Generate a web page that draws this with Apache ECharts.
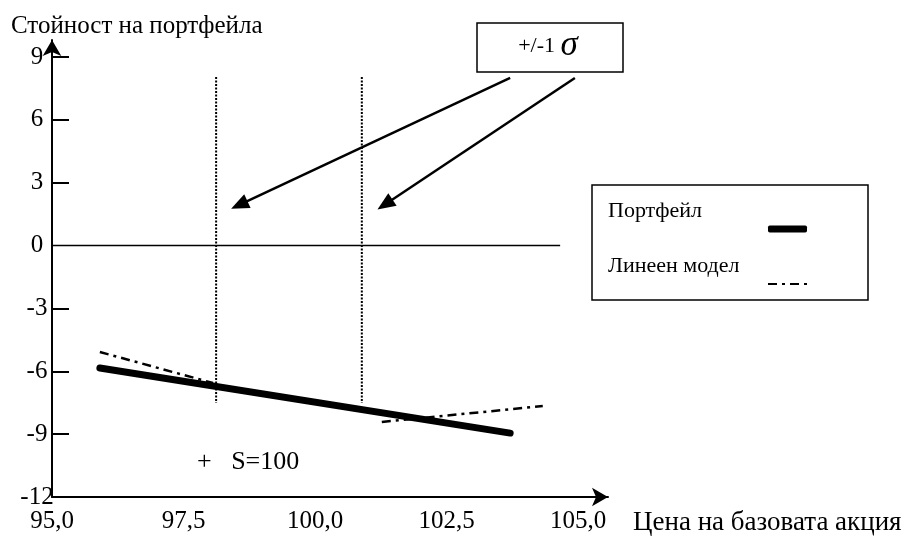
<!DOCTYPE html>
<html>
<head>
<meta charset="utf-8">
<script src="https://cdn.jsdelivr.net/npm/echarts@6/dist/echarts.min.js"></script>
<style>html,body{margin:0;padding:0;background:#fff}#c{width:909px;height:537px}</style>
</head>
<body>
<div id="c"></div>
<script>
// ---- data ----
const xTicks = [95, 97.5, 100, 102.5, 105];
const yTicks = [-12, -9, -6, -3, 0, 3, 6, 9];
const portfolioX = [95.91, 103.71];
const portfolioY = [-5.84, -8.95];
const linearLeftX = [95.91, 98.06];
const linearLeftY = [-5.08, -6.56];
const linearRightX = [101.27, 104.33];
const linearRightY = [-8.42, -7.66];
const sigmaX = [98.12, 100.89];
const sigmaY = [8.05, -7.51];
const zeroLineX = [94.73, 104.66];
const arrowStarts = [[103.71, 8.0], [104.94, 8.0]];
const arrowEnds = [[98.56, 1.94], [101.33, 1.96]];

const FONT = 'Liberation Serif';
const zip = (xs, ys) => xs.map((x, i) => [x, ys[i]]);

const legendBase = (name, icon, top) => ({
  data: [{name: name, icon: icon}],
  orient: 'vertical',
  left: 608, top: top,
  padding: 0,
  align: 'right',
  itemWidth: 39, itemHeight: 7,
  selectedMode: false,
  formatter: n => '{a|' + n + '}\n{a| }',
  itemStyle: {color: '#000', borderWidth: 0},
  textStyle: {rich: {a: {fontFamily: FONT, fontSize: 22, color: '#000', width: 155, align: 'left', lineHeight: 36}}}
});

const chart = echarts.init(document.getElementById('c'), null, {renderer: 'canvas'});
const option = {
  backgroundColor: '#fff',
  animation: false,
  title: {
    text: 'Стойност на портфейла',
    left: 6, top: 9,
    textStyle: {fontFamily: FONT, fontSize: 25, fontWeight: 'normal', color: '#000'}
  },
  grid: {left: 52, right: 301, top: 40, bottom: 40, containLabel: false},
  xAxis: {
    type: 'value', min: 95, max: 105.57,
    name: 'Цена на базовата акция',
    nameLocation: 'end', nameGap: 25,
    nameTextStyle: {fontFamily: FONT, fontSize: 27, color: '#000', verticalAlign: 'top', padding: [12, 0, 0, 0]},
    axisLine: {show: true, onZero: false, symbol: ['none', 'arrow'], symbolSize: [14, 16], lineStyle: {color: '#000', width: 2}},
    axisTick: {show: false},
    splitLine: {show: false},
    axisLabel: {
      customValues: xTicks,
      margin: 12,
      fontFamily: FONT, fontSize: 25, color: '#000',
      formatter: v => v.toFixed(1).replace('.', ',')
    }
  },
  yAxis: {
    type: 'value', min: -12, max: 9.81,
    axisLine: {show: true, onZero: false, symbol: ['none', 'arrow'], symbolSize: [14, 16], lineStyle: {color: '#000', width: 2}},
    axisTick: {show: true, inside: true, length: 17, customValues: yTicks.filter(v => v !== -12 && v !== 0), lineStyle: {color: '#000', width: 2}},
    splitLine: {show: false},
    axisLabel: {
      customValues: yTicks,
      margin: 15, align: 'center',
      fontFamily: FONT, fontSize: 25, color: '#000'
    }
  },
  legend: [
    legendBase('Портфейл', 'roundRect', 200),
    legendBase('Линеен модел', 'path://M0,0h9v2h-9z M14,0h3v2h-3z M22,0h9v2h-9z M36,0h3v2h-3z', 255)
  ],
  series: [
    {
      name: 'zero', type: 'line', data: zeroLineX.map(x => [x, 0]),
      symbol: 'none', clip: false, silent: true,
      lineStyle: {color: '#000', width: 1.5},
      markLine: {
        silent: true, symbol: ['none', 'triangle'], symbolSize: [15, 18],
        label: {show: false},
        lineStyle: {color: '#000', width: 2.5, type: 'solid'},
        data: arrowStarts.map((s, i) => [{coord: s}, {coord: arrowEnds[i]}])
      }
    },
    {
      name: 'Портфейл', type: 'line', data: zip(portfolioX, portfolioY),
      symbol: 'none', clip: false,
      lineStyle: {color: '#000', width: 7, cap: 'round'},
      itemStyle: {color: '#000'}
    },
    {
      name: 'Линеен модел', type: 'line', data: zip(linearLeftX, linearLeftY),
      symbol: 'none', clip: false,
      lineStyle: {color: '#000', width: 2.5, type: [9, 5, 3, 5]},
      itemStyle: {color: '#000'}
    },
    {
      name: 'Линеен модел', type: 'line', data: zip(linearRightX, linearRightY),
      symbol: 'none', clip: false,
      lineStyle: {color: '#000', width: 2.5, type: [9, 5, 3, 5]},
      itemStyle: {color: '#000'}
    },
    ...sigmaX.map(x => ({
      name: 'σ', type: 'line', data: sigmaY.map(y => [x, y]),
      symbol: 'none', clip: false,
      lineStyle: {color: '#000', width: 2, type: [2, 1.5]}
    }))
  ],
  graphic: [
    {type: 'rect', shape: {x: 592, y: 185, width: 276, height: 115}, style: {fill: 'none', stroke: '#000', lineWidth: 1.5}, z: 0, silent: true},
    {type: 'rect', shape: {x: 477, y: 23, width: 146, height: 49}, style: {fill: '#fff', stroke: '#000', lineWidth: 1.5}, z: 10, silent: true},
    {type: 'text', x: 548, y: 46, z: 11, silent: true,
      style: {text: '{a|+/-1 }{b|σ}', align: 'center', verticalAlign: 'middle',
        rich: {a: {fontFamily: FONT, fontSize: 22, fill: '#000'}, b: {fontFamily: FONT, fontSize: 35, fontStyle: 'italic', fill: '#000'}}}},
    {type: 'text', x: 197, y: 462, z: 11, silent: true,
      style: {text: '+   S=100', fontFamily: FONT, fontSize: 26, fill: '#000', verticalAlign: 'middle'}}
  ]
};
chart.setOption(option);
</script>
</body>
</html>
